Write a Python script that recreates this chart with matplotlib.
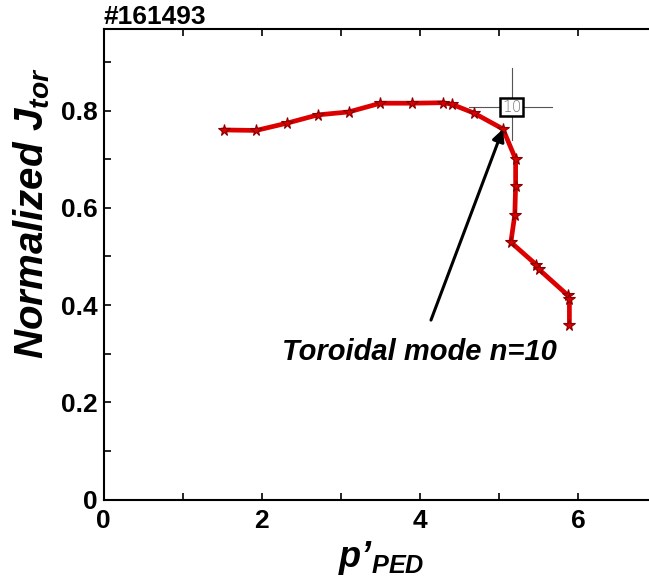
import matplotlib.pyplot as plt

plt.rcParams['font.family'] = ['Liberation Sans', 'DejaVu Sans']
plt.rcParams['mathtext.fontset'] = 'custom'
plt.rcParams['mathtext.rm'] = 'Liberation Sans'
plt.rcParams['mathtext.it'] = 'Liberation Sans:italic'
plt.rcParams['mathtext.bf'] = 'Liberation Sans:bold'
plt.rcParams['mathtext.bfit'] = 'Liberation Sans:bold:italic'

# data
p_ped = [1.52, 1.93, 2.32, 2.71, 3.10, 3.50, 3.90, 4.29, 4.40, 4.68,
         5.05, 5.21, 5.21, 5.20, 5.15, 5.47, 5.50, 5.87, 5.89, 5.89]
j_tor = [0.760, 0.759, 0.774, 0.791, 0.797, 0.815, 0.815, 0.816, 0.813, 0.795,
         0.762, 0.700, 0.644, 0.586, 0.529, 0.483, 0.474, 0.420, 0.412, 0.359]

# marked point (toroidal mode n=10)
mode_x, mode_y = 5.05, 0.762
box_x, box_y = 5.16, 0.807

xticks = [0, 2, 4, 6]
xticklabels = ['0', '2', '4', '6']
yticks = [0, 0.2, 0.4, 0.6, 0.8]
yticklabels = ['0', '0.2', '0.4', '0.6', '0.8']

fig = plt.figure(figsize=(6.49, 5.81), dpi=100)
W, H = 649, 581
ax = fig.add_axes([103.5 / W, 81.5 / H, 553.7 / W, 470.2 / H])

ax.plot(p_ped, j_tor, color='#dd0000', linewidth=3.4, zorder=3,
        marker='*', markersize=8.5, markerfacecolor='#d80000',
        markeredgecolor='#8a0000', markeredgewidth=0.8)

# crosshair + box marking the n=10 point
ax.plot([4.62, 5.67], [box_y, box_y], color='#555555', linewidth=0.8, zorder=2)
ax.plot([box_x, box_x], [0.888, 0.740], color='#555555', linewidth=0.8, zorder=2)
ax.text(box_x, box_y, '10', ha='center', va='center', fontsize=11,
        color='#777777', family='DejaVu Sans', fontweight='light', zorder=4,
        bbox=dict(boxstyle='square,pad=0.12', facecolor='white',
                  edgecolor='black', linewidth=1.8))

ax.annotate('', xy=(mode_x, mode_y), xytext=(4.14, 0.369),
            arrowprops=dict(arrowstyle='-|>', color='black', linewidth=2.2,
                            mutation_scale=18, shrinkA=0, shrinkB=0),
            zorder=5)
ax.text(4.00, 0.303, 'Toroidal mode n=10', ha='center', va='center',
        fontsize=21, fontweight='bold', fontstyle='italic')

ax.set_xlim(0, 7)
ax.set_ylim(0, 0.967)
ax.set_xticks(xticks)
ax.set_xticklabels(xticklabels)
ax.set_xticks([1, 3, 5], minor=True)
ax.set_yticks(yticks)
ax.set_yticklabels(yticklabels)
ax.set_yticks([0.1, 0.3, 0.5, 0.7, 0.9], minor=True)
ax.tick_params(which='both', direction='in', length=5, width=1.2,
               top=True, right=False, labelsize=19)
ax.tick_params(axis='x', pad=7)
ax.tick_params(axis='y', pad=4)
for lab in ax.get_xticklabels() + ax.get_yticklabels():
    lab.set_fontweight('bold')
for side in ['left', 'bottom', 'top']:
    ax.spines[side].set_linewidth(1.5)
ax.spines['right'].set_visible(False)

fig.text(104 / W, 1 - 29 / H, '#161493', ha='left', va='bottom',
         fontsize=19, fontweight='bold')
fig.text(32 / W, 1 - 213 / H, r'$\mathbfit{Normalized\ J_{tor}}$',
         rotation=90, ha='center', va='center', fontsize=29)
fig.text(381 / W, 1 - 558 / H, r'$\mathbfit{p’_{PED}}$',
         ha='center', va='center', fontsize=26)

fig.savefig('out.png', dpi=100)
